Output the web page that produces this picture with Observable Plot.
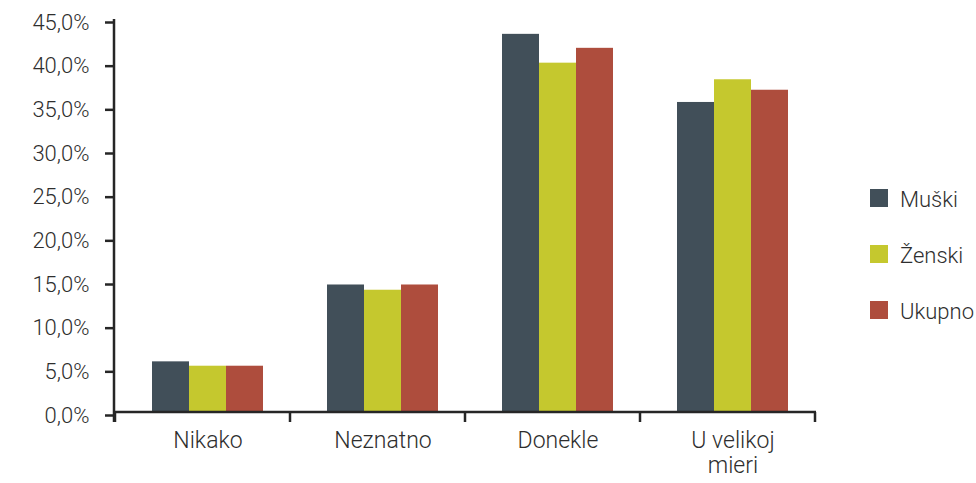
<!DOCTYPE html>
<html>
<head>
<meta charset="utf-8">
<script src="https://cdn.jsdelivr.net/npm/d3@7"></script>
<script src="https://cdn.jsdelivr.net/npm/@observablehq/plot@0.6"></script>
<style>
  html, body { margin: 0; padding: 0; background: #fff; }
  #wrap { position: relative; width: 976px; height: 483px; font-family: Roboto, "Noto Sans", sans-serif; }
  #legend { position: absolute; left: 870px; top: 189px; white-space: nowrap; }
  .item { display: flex; align-items: center; height: 18px; margin-bottom: 38px; }
  .sw { width: 18px; height: 18px; margin-right: 12px; flex: none; }
  .lab { font-size: 22px; font-weight: 300; color: #2e2e2e; position: relative; top: 1px; }
</style>
</head>
<body>
<div id="wrap"></div>
<script>
// ---- data ----
const categories = ["Nikako", "Neznatno", "Donekle", "U velikoj mieri"];
const series = ["Muški", "Ženski", "Ukupno"];
const muski  = [5.8, 14.6, 43.3, 35.5];
const zenski = [5.3, 14.0, 40.0, 38.1];
const ukupno = [5.3, 14.6, 41.7, 36.9];
const colors = ["#414f59", "#c5c82e", "#ae4d3d"];
const yTicks = [0, 5, 10, 15, 20, 25, 30, 35, 40, 45];

const values = [muski, zenski, ukupno];
const data = [];
categories.forEach((c, i) => series.forEach((s, j) => data.push({category: c, series: s, value: values[j][i]})));

const axisColor = "#262626";
const textColor = "#2e2e2e";

// Axis lines and category boundary ticks (Excel-style), drawn once over all facets
class AxisFrame extends Plot.Mark {
  constructor() { super([null], {}, {facet: "super"}, {ariaLabel: "axis frame"}); }
  render(index, scales, vals, dimensions, context) {
    const {fx, y} = scales;
    const ns = "http://www.w3.org/2000/svg";
    const g = document.createElementNS(ns, "g");
    g.setAttribute("stroke", axisColor);
    g.setAttribute("stroke-width", 2.5);
    const line = (x1, y1, x2, y2) => {
      const l = document.createElementNS(ns, "line");
      l.setAttribute("x1", x1); l.setAttribute("y1", y1);
      l.setAttribute("x2", x2); l.setAttribute("y2", y2);
      g.appendChild(l);
    };
    const [r0, r1] = fx.range();
    const y0 = y(0);
    const tick = 10;
    line(r0, y0, r1, y0);
    line(r0, y(y.domain()[1]), r0, y0 + tick);
    const dom = fx.domain();
    dom.forEach(c => line(fx(c), y0, fx(c), y0 + tick));
    line(fx(dom[dom.length - 1]) + fx.bandwidth(), y0, fx(dom[dom.length - 1]) + fx.bandwidth(), y0 + tick);
    return g;
  }
}

const chart = Plot.plot({
  width: 976,
  height: 483,
  marginLeft: 114,
  marginRight: 160,
  marginTop: 19,
  marginBottom: 71,
  style: {fontFamily: "Roboto, 'Noto Sans', sans-serif", color: textColor, background: "#fff"},
  fx: {domain: categories, padding: 0, label: null},
  x: {domain: series, paddingInner: 0, paddingOuter: 0.83, align: 0.58, axis: null},
  y: {domain: [0, 45], label: null},
  color: {domain: series, range: colors},
  marks: [
    Plot.barY(data, {fx: "category", x: "series", y: "value", fill: "series"}),
    Plot.axisY({
      ticks: yTicks,
      tickSize: 10,
      tickPadding: 16,
      tickFormat: d => d.toFixed(1).replace(".", ",") + "%",
      label: null,
      stroke: axisColor,
      strokeWidth: 2.5,
      fill: textColor,
      fontSize: 22,
      fontWeight: 300,
      dy: 3,
      style: "letter-spacing: 0.6px"
    }),
    Plot.axisFx({
      anchor: "bottom",
      tickSize: 0,
      tickPadding: 18,
      tickFormat: d => d.replace("velikoj ", "velikoj\n"),
      lineHeight: 1.09,
      label: null,
      fill: textColor,
      fontSize: 23,
      fontWeight: 300,
      dx: 5
    }),
    new AxisFrame()
  ]
});

const wrap = document.getElementById("wrap");
wrap.appendChild(chart);

const legend = document.createElement("div");
legend.id = "legend";
series.forEach((s, i) => {
  const it = document.createElement("div");
  it.className = "item";
  const sw = document.createElement("div");
  sw.className = "sw";
  sw.style.background = colors[i];
  const lab = document.createElement("span");
  lab.className = "lab";
  lab.textContent = s;
  it.appendChild(sw); it.appendChild(lab);
  legend.appendChild(it);
});
wrap.appendChild(legend);
</script>
</body>
</html>
